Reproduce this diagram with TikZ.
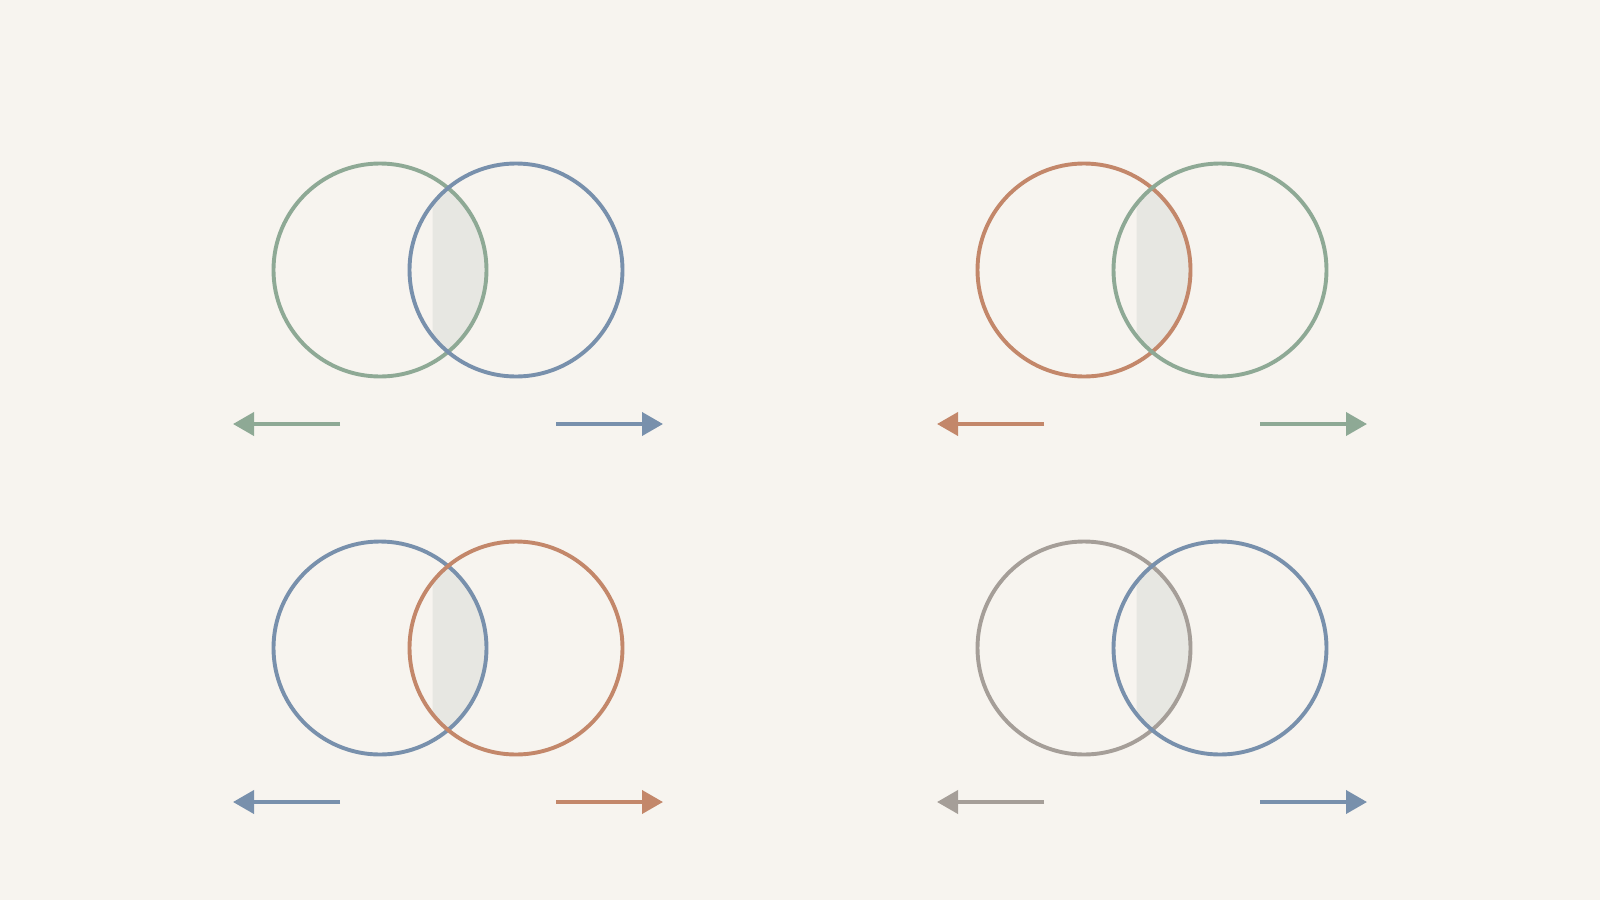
\documentclass[tikz,border=0pt]{standalone}
\usetikzlibrary{arrows.meta}
\definecolor{bg}{HTML}{F7F4EF}
\definecolor{cgreen}{HTML}{8EA995}
\definecolor{cblue}{HTML}{7890AC}
\definecolor{corange}{HTML}{C3876A}
\definecolor{cgrey}{HTML}{A59E98}
\definecolor{lens}{HTML}{E7E7E2}
\tikzset{
  ring/.style={circle, draw=#1, line width=3.9pt, minimum size=213pt, inner sep=0pt},
  arr/.style={draw=#1, line width=3.9pt, -{Triangle[length=21pt,width=23pt]}, color=#1},
}
\newcommand{\vennpair}[5]{% #1 cxL, #2 cy, #3 colL, #4 colR, #5 prefix
  \begin{scope}
    \clip (#1+136-106.5+23,#2-120) rectangle (#1+136+120,#2+120);
    \clip (#1,#2) circle (106.5pt);
    \fill[lens] (#1+136,#2) circle (106.5pt);
  \end{scope}
  \node[ring=#3] (#5L) at (#1,#2) {};
  \node[ring=#4] (#5R) at (#1+136,#2) {};
  \coordinate (#5a) at (#1-40,#2+154);
  \coordinate (#5b) at (#1-147,#2+154);
  \coordinate (#5c) at (#1+136+40,#2+154);
  \coordinate (#5d) at (#1+136+147,#2+154);
  \draw[arr=#3] (#5a) -- (#5b);
  \draw[arr=#4] (#5c) -- (#5d);
}
\begin{document}
\begin{tikzpicture}[x=1pt,y=-1pt]
  \fill[bg] (0,0) rectangle (1600,900);
  \useasboundingbox (0,0) rectangle (1600,900);
  \vennpair{380}{270}{cgreen}{cblue}{p}
  \vennpair{1084}{270}{corange}{cgreen}{q}
  \vennpair{380}{648}{cblue}{corange}{r}
  \vennpair{1084}{648}{cgrey}{cblue}{s}
\end{tikzpicture}
\end{document}
